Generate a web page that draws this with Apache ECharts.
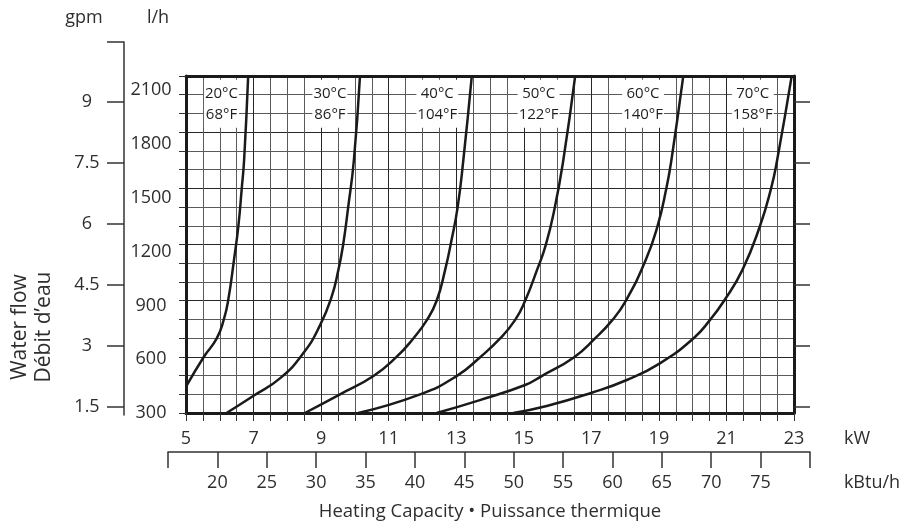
<!DOCTYPE html>
<html>
<head>
<meta charset="utf-8">
<script src="https://cdn.jsdelivr.net/npm/echarts@6/dist/echarts.min.js"></script>
<style>
  html, body { margin: 0; padding: 0; background: #fff; }
  #chart { width: 900px; height: 526px; }
</style>
</head>
<body>
<div id="chart"></div>
<script>
// Water flow (l/h) against heating capacity (kW), one curve per water temperature
const tempLabels = ['20°C\n68°F', '30°C\n86°F', '40°C\n104°F', '50°C\n122°F', '60°C\n140°F', '70°C\n158°F'];
const labelKw = [6.05, 9.26, 12.44, 15.44, 18.53, 21.78];
const labelFlow = 2025;

const curve20 = [[5.00,447],[5.53,614],[5.91,716],[6.12,822],[6.25,930],[6.42,1153],[6.55,1342],[6.65,1552],[6.72,1710],[6.84,2178]];
const curve30 = [[6.20,300],[6.99,395],[7.78,493],[8.47,633],[8.97,790],[9.31,948],[9.51,1097],[9.65,1236],[9.80,1446],[9.97,1710],[10.15,2178]];
const curve40 = [[8.52,300],[9.56,404],[10.55,506],[11.24,614],[11.73,716],[12.13,818],[12.42,926],[12.67,1097],[12.86,1264],[13.04,1446],[13.21,1710],[13.46,2178]];
const curve50 = [[10.10,300],[11.93,404],[13.01,506],[13.70,610],[14.30,716],[14.74,818],[15.04,926],[15.39,1097],[15.65,1236],[15.92,1448],[16.17,1710],[16.52,2178]];
const curve60 = [[12.42,300],[13.70,372],[15.04,456],[15.53,506],[16.48,610],[17.11,716],[17.62,818],[18.02,926],[18.61,1153],[18.96,1342],[19.22,1552],[19.37,1710],[19.72,2178]];
const curve70 = [[14.69,300],[15.68,339],[17.01,413],[18.05,484],[19.03,577],[20.02,716],[20.51,818],[20.93,926],[21.47,1097],[21.99,1342],[22.32,1552],[22.50,1710],[22.93,2178]];
const curves = [curve20, curve30, curve40, curve50, curve60, curve70];

const gpmTicks = [1.5, 3, 4.5, 6, 7.5, 9];
const flowTicks = [300, 600, 900, 1200, 1500, 1800, 2100];
const kBtuLabels = [20, 25, 30, 35, 40, 45, 50, 55, 60, 65, 70, 75];

const FONT = '"Open Sans", "DejaVu Sans", sans-serif';
const TXT = '#2e2e2e';
const INK = '#1a1a1a';
const MAJOR = '#262626';
const MINOR = '#5a5a5a';

const chart = echarts.init(document.getElementById('chart'), null, { renderer: 'canvas' });

const plain = v => String(v);

const option = {
  backgroundColor: '#fff',
  animation: false,
  textStyle: { fontFamily: FONT, color: TXT },
  grid: [
    { left: 186, right: 106, top: 76, bottom: 113 },   // main plot
    { left: 124, width: 10, top: 42, bottom: 111 },    // gpm scale
    { left: 168, right: 90, top: 430, bottom: 74 }     // kBtu/h scale
  ],
  xAxis: [
    {
      gridIndex: 0, type: 'value', min: 5, max: 23, interval: 0.5, position: 'bottom',
      axisLine: { show: true, lineStyle: { color: INK, width: 3 } },
      axisTick: { show: true, length: 8, lineStyle: { color: '#333', width: 1 } },
      axisLabel: {
        margin: 17, fontSize: 18, color: TXT, fontFamily: FONT,
        formatter: v => (Number.isInteger(v) && v % 2 === 1) ? String(v) : ''
      },
      splitLine: { show: true, lineStyle: { color: [MAJOR, MINOR, MINOR, MINOR], width: 1 } }
    },
    {
      gridIndex: 0, type: 'value', min: 5, max: 23, position: 'top',
      axisLine: { show: true, lineStyle: { color: INK, width: 3 } },
      axisTick: { show: false }, axisLabel: { show: false }, splitLine: { show: false }
    },
    { gridIndex: 1, type: 'value', show: false },
    {
      gridIndex: 2, type: 'value', min: 15, max: 80, interval: 5, position: 'bottom',
      axisLine: { show: true, lineStyle: { color: '#333', width: 1.5 } },
      axisTick: { show: true, length: 16, lineStyle: { color: '#333', width: 1.5 } },
      axisLabel: {
        margin: 22, fontSize: 18, color: TXT, fontFamily: FONT,
        customValues: kBtuLabels, formatter: plain
      },
      splitLine: { show: false }
    }
  ],
  yAxis: [
    {
      // grid divisions of the plot
      gridIndex: 0, type: 'value', min: 0, max: 18, interval: 1, position: 'left',
      axisLine: { show: true, lineStyle: { color: INK, width: 3 } },
      axisTick: { show: true, length: 7, lineStyle: { color: '#333', width: 1 } },
      axisLabel: { show: false },
      splitLine: { show: true, lineStyle: { color: [MAJOR, MINOR, MINOR], width: 1 } }
    },
    {
      // flow in l/h
      gridIndex: 0, type: 'value', min: 300, max: 2180, position: 'left',
      axisLine: { show: false }, axisTick: { show: false }, splitLine: { show: false },
      axisLabel: {
        customValues: flowTicks, formatter: plain, align: 'center', margin: 35,
        fontSize: 18, color: TXT, fontFamily: FONT
      }
    },
    {
      // gpm ticks mirrored on the right border
      gridIndex: 0, type: 'value', min: 1.352, max: 9.639, position: 'right',
      axisLine: { show: true, lineStyle: { color: INK, width: 3 } },
      axisTick: { show: true, customValues: gpmTicks, length: 16, lineStyle: { color: '#333', width: 1.5 } },
      axisLabel: { show: false }, splitLine: { show: false }
    },
    {
      // gpm scale
      gridIndex: 1, type: 'value', min: 1.303, max: 10.475, position: 'left',
      axisLine: { show: true, lineStyle: { color: '#333', width: 1.5 } },
      axisTick: { show: true, customValues: gpmTicks.concat([10.475]), length: 17, lineStyle: { color: '#333', width: 1.5 } },
      axisLabel: {
        customValues: gpmTicks, formatter: plain, align: 'center', margin: 37,
        fontSize: 18, color: TXT, fontFamily: FONT
      },
      splitLine: { show: false }
    },
    { gridIndex: 2, type: 'value', show: false }
  ],
  series: curves.map(c => ({
    type: 'line', xAxisIndex: 0, yAxisIndex: 1,
    data: c, smooth: 0.5, symbol: 'none', clip: true,
    lineStyle: { color: INK, width: 2.5 }, z: 3
  })).concat([{
    type: 'scatter', xAxisIndex: 0, yAxisIndex: 1, symbolSize: 0, z: 4,
    itemStyle: { opacity: 1 },
    data: tempLabels.map((t, i) => [labelKw[i], labelFlow, t]),
    label: {
      show: true, position: 'inside', opacity: 1,
      formatter: p => p.data[2],
      fontSize: 15, lineHeight: 21, color: '#1e1e1e', fontFamily: FONT,
      textBorderWidth: 0, textBorderColor: 'transparent',
      backgroundColor: '#fff', padding: [3, 1, 3, 1]
    },
    emphasis: { disabled: true }
  }]),
  graphic: [
    { type: 'text', x: 84, y: 18, style: { text: 'gpm', fontSize: 18, fontFamily: FONT, fill: TXT, align: 'center', verticalAlign: 'middle' } },
    { type: 'text', x: 158, y: 18, style: { text: 'l/h', fontSize: 18, fontFamily: FONT, fill: TXT, align: 'center', verticalAlign: 'middle' } },
    { type: 'text', x: 857, y: 439, style: { text: 'kW', fontSize: 18, fontFamily: FONT, fill: TXT, align: 'center', verticalAlign: 'middle' } },
    { type: 'text', x: 872, y: 483, style: { text: 'kBtu/h', fontSize: 18, fontFamily: FONT, fill: TXT, align: 'center', verticalAlign: 'middle' } },
    { type: 'text', x: 490, y: 512, style: { text: 'Heating Capacity • Puissance thermique', fontSize: 18.5, fontFamily: FONT, fill: TXT, align: 'center', verticalAlign: 'middle' } },
    { type: 'text', x: 20, y: 327, rotation: Math.PI / 2, style: { text: 'Water flow', fontSize: 21, fontFamily: FONT, fill: TXT, align: 'center', verticalAlign: 'middle' } },
    { type: 'text', x: 44, y: 327, rotation: Math.PI / 2, style: { text: 'Débit d’eau', fontSize: 21, fontFamily: FONT, fill: TXT, align: 'center', verticalAlign: 'middle' } }
  ]
};

chart.setOption(option);
</script>
</body>
</html>
